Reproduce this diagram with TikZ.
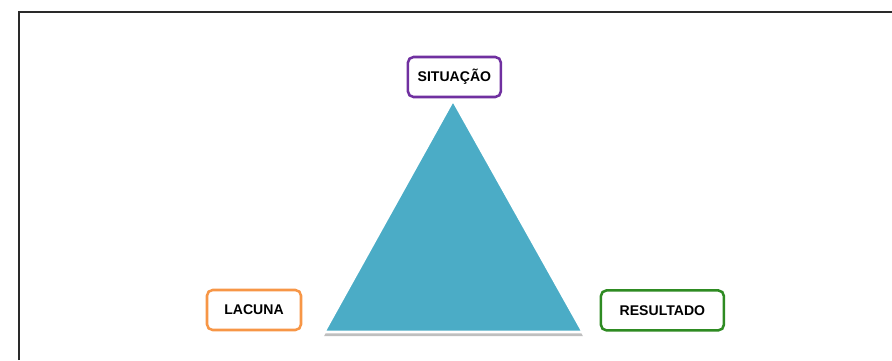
\documentclass[tikz,border=0pt]{standalone}
\usepackage{fontspec}
\setmainfont{Liberation Sans}
\definecolor{aqua}{HTML}{4BACC6}
\definecolor{sitcol}{HTML}{7030A0}
\definecolor{laccol}{HTML}{F79646}
\definecolor{rescol}{HTML}{2E8B22}
\definecolor{framecol}{HTML}{2A2A2A}
\tikzset{
	label box/.style={draw, line width=1.8pt, rounded corners=4pt, fill=white,
		minimum height=1cm, align=center, font=\bfseries\fontsize{10}{12}\selectfont}
}
\begin{document}
\begin{tikzpicture}
		\useasboundingbox (0,0) rectangle (22.3,9);

		\draw [framecol, line width=2pt] (0.475,0) -- (0.475,8.7) -- (22.3,8.7);

		\coordinate (top) at (11.325,6.5);
		\coordinate (left) at (8.1,0.7);
		\coordinate (right) at (14.575,0.7);

		\fill [black!25] ([yshift=-3pt]left) -- ([yshift=-3pt]right) -- (top) -- cycle;
		\draw [white, line width=2pt, fill=aqua, line join=miter] (top) -- (right) -- (left) -- cycle;

		\node [label box, draw=sitcol, minimum width=2.325cm] at (11.36,7.075) (sit) {SITUAÇÃO};
		\node [label box, draw=laccol, minimum width=2.35cm] at (6.35,1.25) (lac) {LACUNA};
		\node [label box, draw=rescol, minimum width=3.075cm] at (16.56,1.24) (res) {RESULTADO};
	\end{tikzpicture}
\end{document}
